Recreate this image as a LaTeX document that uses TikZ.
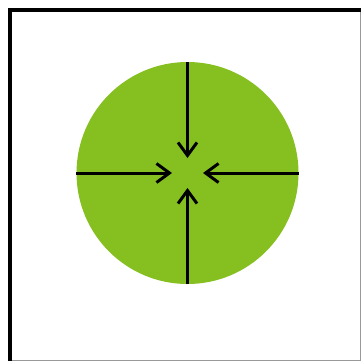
\documentclass[tikz,border=0pt]{standalone}
\usetikzlibrary{arrows.meta}
\definecolor{leafgreen}{RGB}{134,191,32}
\begin{document}
\begin{tikzpicture}[x=1pt,y=-1pt,
    edge/.style={line width=3.5pt},
    shade/.style={black!40,line width=1pt},
    push/.style={line width=3pt,-{Straight Barb[length=13pt,width=19pt]}}]
  \useasboundingbox (0,0) rectangle (363,362);
  % frame
  \draw[shade] (10,360.5) -- (360.5,360.5) -- (360.5,10);
  \draw[edge] (10,360.5) -- (10,10) -- (360.5,10);
  % disc
  \node[circle,fill=leafgreen,inner sep=0pt,minimum size=222pt] (disc) at (187.5,173) {};
  % arrows pointing in
  \foreach \d/\dx/\dy in {north/0/15, south/0/-15, west/-15.5/0, east/15.5/0}{
    \coordinate (tip-\d) at ([xshift=\dx pt,yshift=\dy pt]disc.center);
    \draw[push] (disc.\d) -- (tip-\d);
  }
\end{tikzpicture}
\end{document}
